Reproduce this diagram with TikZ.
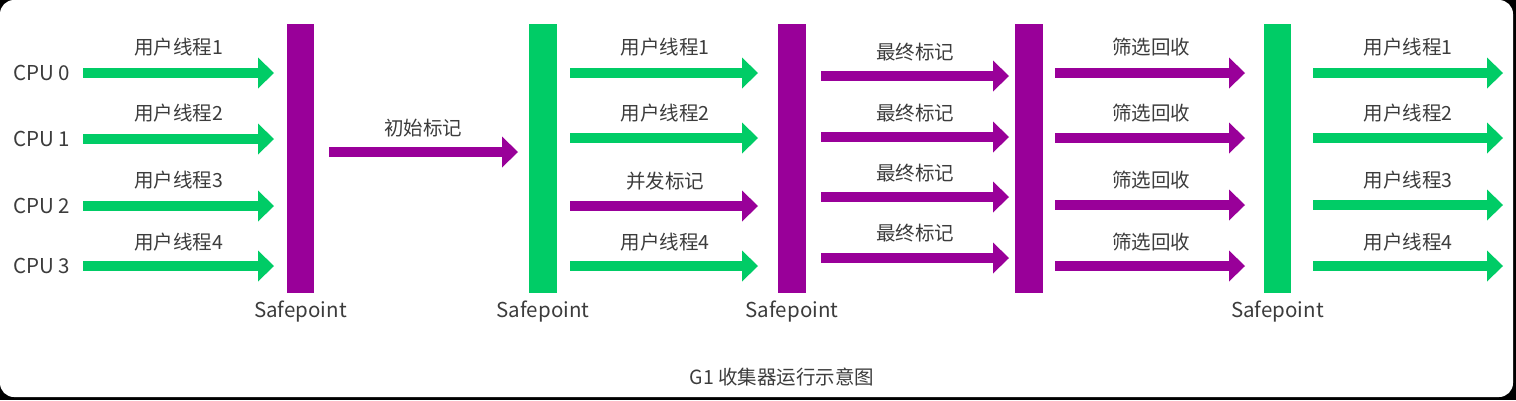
\documentclass[tikz,border=0pt]{standalone}
\usepackage{fontspec}
\setmainfont{Noto Sans CJK SC}
\usetikzlibrary{arrows.meta}
\definecolor{gr}{RGB}{0,204,102}
\definecolor{pu}{RGB}{153,0,153}
\definecolor{tx}{RGB}{60,60,60}
\begin{document}
\begin{tikzpicture}[x=1pt,y=-1pt,
  arr/.style={line width=10pt,-{Triangle[length=16pt,width=31pt,line width=0pt]}},
  garrow/.style={arr,draw=gr,color=gr},
  parrow/.style={arr,draw=pu,color=pu},
  lbl/.style={text=tx,font=\fontsize{19.5}{22}\selectfont,inner sep=0pt},
  lat/.style={lbl,font=\fontsize{20.5}{23}\selectfont},
  bar/.style={minimum width=27.5pt,minimum height=269pt,inner sep=0pt,draw=none},
  gbar/.style={bar,fill=gr},
  pbar/.style={bar,fill=pu}]
\fill[black] (0,0) rectangle (1516,400);
\fill[white,rounded corners=14pt] (0,0) rectangle (1513,397);
\useasboundingbox (0,0) rectangle (1516,400);
% bars
\node[pbar] (bar1) at (300.5,158.5) {};
\node[gbar] (bar2) at (543,158.5) {};
\node[pbar] (bar3) at (792,158.5) {};
\node[pbar] (bar4) at (1029,158.5) {};
\node[gbar] (bar5) at (1277.5,158.5) {};
\node[lat] (sp1) at (300.5,312) {Safepoint};
\node[lat] (sp2) at (543,312) {Safepoint};
\node[lat] (sp3) at (792,312) {Safepoint};
\node[lat] (sp5) at (1277.5,312) {Safepoint};
% CPU labels
\foreach \i/\y in {0/73,1/139,2/206,3/266}
  \node[lat,anchor=west] (cpu\i) at (13,\y) {CPU \i};
% section 1
\foreach \i/\y/\ly in {1/73/47,2/139/113,3/206/180,4/266/242}{
  \coordinate (a1s\i) at (83,\y);
  \coordinate (a1e\i) at (274,\y);
  \draw[garrow] (a1s\i) -- (a1e\i);
  \node[lbl] (l1\i) at (178.5,\ly) {用户线程\i};
}
% middle
\coordinate (ms) at (329,152);
\coordinate (me) at (518,152);
\draw[parrow] (ms) -- (me);
\node[lbl] (lm) at (423,128) {初始标记};
% section 2
\foreach \i/\y/\ly/\st/\t in {1/73/47/garrow/用户线程1,2/138/113/garrow/用户线程2,3/206/181/parrow/并发标记,4/266/242/garrow/用户线程4}{
  \coordinate (a2s\i) at (570,\y);
  \coordinate (a2e\i) at (758,\y);
  \draw[\st] (a2s\i) -- (a2e\i);
  \node[lbl] (l2\i) at (665,\ly) {\t};
}
% section 3
\foreach \i/\y/\ly in {1/76/52,2/137/113,3/197/173,4/258/233}{
  \coordinate (a3s\i) at (821,\y);
  \coordinate (a3e\i) at (1009,\y);
  \draw[parrow] (a3s\i) -- (a3e\i);
  \node[lbl] (l3\i) at (915,\ly) {最终标记};
}
% section 4
\foreach \i/\y/\ly in {1/73/47,2/138/113,3/205/180,4/266/242}{
  \coordinate (a4s\i) at (1055,\y);
  \coordinate (a4e\i) at (1245,\y);
  \draw[parrow] (a4s\i) -- (a4e\i);
  \node[lbl] (l4\i) at (1151,\ly) {筛选回收};
}
% section 5
\foreach \i/\y/\ly in {1/73/47,2/138/113,3/205/180,4/266/242}{
  \coordinate (a5s\i) at (1313,\y);
  \coordinate (a5e\i) at (1503,\y);
  \draw[garrow] (a5s\i) -- (a5e\i);
  \node[lbl] (l5\i) at (1408,\ly) {用户线程\i};
}
\node[lbl] (cap) at (782,377) {G1 收集器运行示意图};
\end{tikzpicture}
\end{document}
